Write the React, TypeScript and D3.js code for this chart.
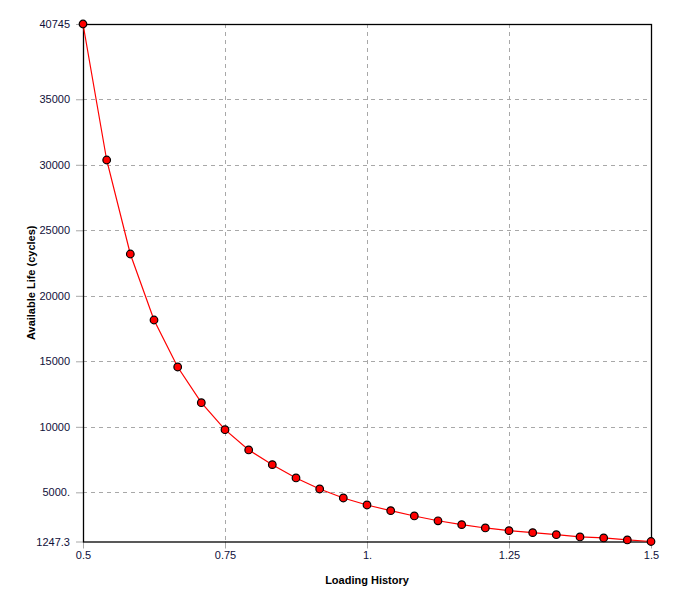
import * as d3 from "d3";
import { useEffect, useRef } from "react";

// Loading history (x) vs available life (y)
const loading = [
  0.5, 0.5417, 0.5833, 0.625, 0.6667, 0.7083, 0.75, 0.7917, 0.8333, 0.875, 0.9167, 0.9583, 1.0,
  1.0417, 1.0833, 1.125, 1.1667, 1.2083, 1.25, 1.2917, 1.3333, 1.375, 1.4167, 1.4583, 1.5,
];
const life = [
  40745, 30365, 23191, 18154, 14567, 11842, 9782, 8233, 7111, 6096, 5256, 4569, 4035, 3600, 3196,
  2829, 2532, 2280, 2074, 1921, 1768, 1593, 1517, 1364, 1247.3,
];

const xTicks = [0.5, 0.75, 1.0, 1.25, 1.5];
const xTickLabels = ["0.5", "0.75", "1.", "1.25", "1.5"];
const yTicks = [1247.3, 5000, 10000, 15000, 20000, 25000, 30000, 35000, 40745];
const yTickLabels = ["1247.3", "5000.", "10000", "15000", "20000", "25000", "30000", "35000", "40745"];

const width = 674;
const height = 606;
const margin = { top: 24, right: 23, bottom: 64.5, left: 83 };
const font = "Tahoma, 'Liberation Sans', Arial, sans-serif";

export default function App() {
  const svgRef = useRef<SVGSVGElement>(null);

  useEffect(() => {
    if (!svgRef.current) return;
    const svg = d3.select(svgRef.current);
    svg.selectAll("*").remove();

    const innerWidth = width - margin.left - margin.right;
    const innerHeight = height - margin.top - margin.bottom;

    const x = d3.scaleLinear().domain([0.5, 1.5]).range([0, innerWidth]);
    const y = d3.scaleLinear().domain([1247.3, 40745]).range([innerHeight, 0]);

    const g = svg.append("g").attr("transform", `translate(${margin.left},${margin.top})`);

    // Grid lines (dashed, inner only)
    g.append("g")
      .selectAll("line")
      .data(xTicks.slice(1, -1))
      .enter()
      .append("line")
      .attr("x1", (d) => Math.round(x(d)) + 0.5)
      .attr("x2", (d) => Math.round(x(d)) + 0.5)
      .attr("y1", 0)
      .attr("y2", innerHeight)
      .style("stroke", "#a8a8a8")
      .style("stroke-dasharray", "4,4");

    g.append("g")
      .selectAll("line")
      .data(yTicks.slice(1, -1))
      .enter()
      .append("line")
      .attr("x1", 0)
      .attr("x2", innerWidth)
      .attr("y1", (d) => Math.round(y(d)) + 0.5)
      .attr("y2", (d) => Math.round(y(d)) + 0.5)
      .style("stroke", "#a8a8a8")
      .style("stroke-dasharray", "4,4");

    // Axes
    const xAxis = d3
      .axisBottom(x)
      .tickValues(xTicks)
      .tickSize(7)
      .tickPadding(3)
      .tickFormat((_, i) => xTickLabels[i]);
    const yAxis = d3
      .axisLeft(y)
      .tickValues(yTicks)
      .tickSize(7)
      .tickPadding(6)
      .tickFormat((_, i) => yTickLabels[i]);

    const xg = g.append("g").attr("transform", `translate(0,${innerHeight})`).call(xAxis);
    const yg = g.append("g").call(yAxis);

    [xg, yg].forEach((ax) => {
      ax.select(".domain").remove();
      ax.selectAll(".tick line").style("stroke", "#a8a8a8");
      ax.selectAll("text")
        .style("font-family", font)
        .style("font-size", "11px")
        .style("fill", "#10103a");
    });

    // Frame
    g.append("rect")
      .attr("x", 0.5)
      .attr("y", 0.5)
      .attr("width", innerWidth)
      .attr("height", innerHeight)
      .style("fill", "none")
      .style("stroke", "#000")
      .style("stroke-width", 1.3);

    // Line
    const pts = loading.map((v, i) => [v, life[i]] as [number, number]);
    const line = d3
      .line<[number, number]>()
      .x((d) => x(d[0]))
      .y((d) => y(d[1]));

    g.append("path")
      .datum(pts)
      .attr("d", line)
      .style("fill", "none")
      .style("stroke", "#ff0000")
      .style("stroke-width", 1.2);

    g.append("g")
      .selectAll("circle")
      .data(pts)
      .enter()
      .append("circle")
      .attr("cx", (d) => x(d[0]))
      .attr("cy", (d) => y(d[1]))
      .attr("r", 3.8)
      .style("fill", "#ff0000")
      .style("stroke", "#000")
      .style("stroke-width", 1.2);

    // Axis labels
    svg
      .append("text")
      .attr("x", margin.left + innerWidth / 2)
      .attr("y", 584)
      .attr("text-anchor", "middle")
      .style("font-family", font)
      .style("font-size", "11px")
      .style("font-weight", "bold")
      .style("fill", "#000")
      .text("Loading History");

    svg
      .append("text")
      .attr("transform", "rotate(-90)")
      .attr("x", -(margin.top + innerHeight / 2))
      .attr("y", 35)
      .attr("text-anchor", "middle")
      .style("font-family", font)
      .style("font-size", "11px")
      .style("font-weight", "bold")
      .style("fill", "#000")
      .text("Available Life (cycles)");
  }, []);

  return (
    <svg
      ref={svgRef}
      width={width}
      height={height}
      style={{ position: "absolute", left: 0, top: 0, background: "#fff" }}
    />
  );
}
